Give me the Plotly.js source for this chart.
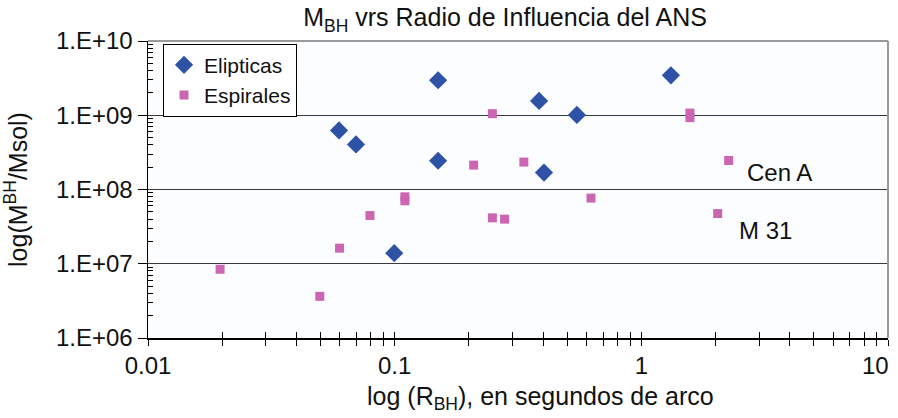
<!DOCTYPE html>
<html>
<head>
<meta charset="utf-8">
<script src="https://cdn.plot.ly/plotly-3.0.1.min.js"></script>
<style>html,body{margin:0;padding:0;background:#fff;}#chart{width:898px;height:418px;}</style>
</head>
<body>
<div id="chart"></div>
<script>
// Data
const elipX = [0.150, 0.0595, 0.0697, 0.150, 1.318, 0.385, 0.548, 0.403, 0.0996];
const elipY = [2.96e9, 6.25e8, 4.05e8, 2.44e8, 3.45e9, 1.56e9, 1.01e9, 1.69e8, 1.39e7];
const espX = [0.0196, 0.0497, 0.0598, 0.0794, 0.110, 0.110, 0.209, 0.249, 0.249, 0.279, 0.334, 0.625, 1.574, 1.574, 2.04, 2.26];
const espY = [8.43e6, 3.64e6, 1.62e7, 4.46e7, 7.97e7, 7.04e7, 2.13e8, 1.05e9, 4.15e7, 3.99e7, 2.34e8, 7.66e7, 1.07e9, 9.28e8, 4.74e7, 2.46e8];
const seriesNames = ['Elipticas', 'Espirales'];

const xMajorVals = [0.01, 0.1, 1, 10];
const xMajorText = ['0.01', '0.1', '1', ''];
const xLastLabel = '10';
const yMajorVals = [1e6, 1e7, 1e8, 1e9, 1e10];
const yMajorText = ['1.E+06', '1.E+07', '1.E+08', '1.E+09', '1.E+10'];
const minorDigits = [2, 3, 4, 5, 6, 7, 8, 9];

const labels = [
  {text: 'Cen A', x: 2.63, y: 1.68e8},
  {text: 'M 31', x: 2.44, y: 2.77e7}
];
const xTitleText = 'log (R<sub>BH</sub>), en segundos de arco';

function minorOf(majors) {
  const out = [];
  for (let i = 0; i < majors.length - 1; i++) {
    minorDigits.forEach(d => out.push(majors[i] * d));
  }
  return out;
}
const xMinor = minorOf(xMajorVals);
const yMinor = minorOf(yMajorVals);

const FONT = 'Liberation Sans, Arial, sans-serif';

const traces = [
  {
    x: elipX, y: elipY, name: seriesNames[0], type: 'scatter', mode: 'markers',
    marker: {symbol: 'diamond', size: 14, color: '#2e52a6'}
  },
  {
    x: espX, y: espY, name: seriesNames[1], type: 'scatter', mode: 'markers',
    marker: {symbol: 'square', size: 9, color: '#cc66b2'}
  },
  {
    // carrier (no visible points) so the overlaid tick axis for the upper half of the cross ticks is drawn
    x: xMajorVals, y: xMajorVals.map(() => null), xaxis: 'x2', yaxis: 'y', type: 'scatter', mode: 'markers',
    showlegend: false, hoverinfo: 'skip', marker: {opacity: 0}
  }
];

const annotations = labels.map(l => ({
  text: l.text, x: Math.log10(l.x), y: Math.log10(l.y), xref: 'x', yref: 'y',
  xanchor: 'left', yanchor: 'middle', showarrow: false,
  font: {family: FONT, size: 24, color: '#111'}
}));
annotations.push({
  text: xLastLabel, xref: 'paper', yref: 'paper', x: 1, y: 0,
  xanchor: 'right', yanchor: 'middle', xshift: 3, yshift: -27, showarrow: false,
  font: {family: FONT, size: 24, color: '#111'}
});
annotations.push({
  text: xTitleText, xref: 'paper', yref: 'paper', x: 0.530, y: 0,
  xanchor: 'center', yanchor: 'middle', yshift: -60, showarrow: false,
  font: {family: FONT, size: 25, color: '#111'}
});

const layout = {
  width: 898, height: 418,
  margin: {l: 148, r: 10, t: 41, b: 80},
  paper_bgcolor: '#ffffff',
  plot_bgcolor: '#fcfdfe',
  font: {family: FONT, color: '#111', size: 20},
  showlegend: true,
  title: {
    text: 'M<sub>BH</sub> vrs Radio de Influencia del ANS',
    font: {family: FONT, size: 25, color: '#111'},
    x: 0.4825, xref: 'paper', xanchor: 'center',
    y: 0.958, yref: 'container', yanchor: 'middle'
  },
  xaxis: {
    type: 'log', range: [-2, 1],
    tickmode: 'array', tickvals: xMajorVals, ticktext: xMajorText,
    ticks: 'outside', ticklen: 6, tickwidth: 1, tickcolor: '#000',
    minor: {tickmode: 'array', tickvals: xMinor, ticks: 'outside', ticklen: 6, tickwidth: 1, tickcolor: '#000', showgrid: false},
    showgrid: false, zeroline: false,
    showline: true, linecolor: '#000', linewidth: 1.5,
    tickfont: {family: FONT, size: 24, color: '#111'}
  },
  xaxis2: {
    type: 'log', range: [-2, 1], overlaying: 'x', anchor: 'y', side: 'bottom',
    tickmode: 'array', tickvals: xMajorVals,
    ticks: 'inside', ticklen: 6, tickwidth: 1, tickcolor: '#000',
    minor: {tickmode: 'array', tickvals: xMinor, ticks: 'inside', ticklen: 6, tickwidth: 1, tickcolor: '#000', showgrid: false},
    showgrid: false, zeroline: false, showline: false, showticklabels: false
  },
  yaxis: {
    type: 'log', range: [6, 10],
    tickmode: 'array', tickvals: yMajorVals, ticktext: yMajorText,
    ticks: 'outside', ticklen: 9, tickwidth: 1, tickcolor: '#000',
    minor: {tickmode: 'array', tickvals: yMinor, ticks: 'inside', ticklen: 5, tickwidth: 1, tickcolor: '#000', showgrid: false},
    showgrid: true, gridcolor: '#3a3a3a', gridwidth: 1,
    zeroline: false, showline: true, linecolor: '#000', linewidth: 1.5,
    tickfont: {family: FONT, size: 24, color: '#111'},
    title: {text: 'log(M<sup>BH</sup>/Msol)', font: {family: FONT, size: 25, color: '#111'}, standoff: 26}
  },
  legend: {
    x: 0.0203, y: 0.991, xanchor: 'left', yanchor: 'top',
    xref: 'paper', yref: 'paper',
    bgcolor: '#ffffff', bordercolor: '#000', borderwidth: 1,
    font: {family: FONT, size: 21, color: '#111'},
    itemwidth: 30
  },
  shapes: [
    {type: 'line', xref: 'paper', yref: 'paper', x0: 0, x1: 1, y0: 1, y1: 1, line: {color: '#9a9a9a', width: 2}, layer: 'above'},
    {type: 'line', xref: 'paper', yref: 'paper', x0: 1, x1: 1, y0: 0, y1: 1, line: {color: '#9a9a9a', width: 2}, layer: 'above'}
  ],
  annotations: annotations
};

Plotly.newPlot('chart', traces, layout, {displayModeBar: false, staticPlot: true});
</script>
</body>
</html>
